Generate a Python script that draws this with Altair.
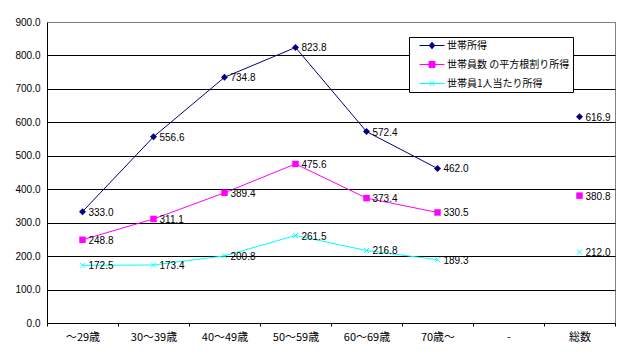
import altair as alt
import pandas as pd

categories = ["～29歳", "30～39歳", "40～49歳", "50～59歳", "60～69歳", "70歳～", "-", "総数"]
series_names = ["世帯所得", "世帯員数 の平方根割り所得", "世帯員1人当たり所得"]
household_income = [333.0, 556.6, 734.8, 823.8, 572.4, 462.0, None, 616.9]
equivalent_income = [248.8, 311.1, 389.4, 475.6, 373.4, 330.5, None, 380.8]
per_capita_income = [172.5, 173.4, 200.8, 261.5, 216.8, 189.3, None, 212.0]
y_ticks = [0, 100, 200, 300, 400, 500, 600, 700, 800, 900]

colors = ["#000080", "#FF00FF", "#00FFFF"]
marker_shapes = ["diamond", "square", "M-1,-1L1,1M-1,1L1,-1"]
marker_sizes = [49, 42, 25]
marker_filled = [True, True, False]
legend_paths = [
    "M-2.5,0H2.5M0,-0.65L0.55,0L0,0.65L-0.55,0Z",
    "M-2.5,0H2.5M-0.6,-0.6H0.6V0.6H-0.6Z",
    "M-2.5,0H2.5M-0.5,-0.5L0.5,0.5M-0.5,0.5L0.5,-0.5",
]

rows = []
for sid, (name, vals) in enumerate(zip(series_names, [household_income, equivalent_income, per_capita_income])):
    for cat, v in zip(categories, vals):
        rows.append({"cat": cat, "series": name, "sid": sid, "value": v})
df = pd.DataFrame(rows)

FONT = "Noto Sans CJK JP"
NUMFONT = "Liberation Sans"

x_enc = alt.X(
    "cat:N",
    sort=categories,
    bandPosition=0.5,
    scale=alt.Scale(type="band", paddingInner=0, paddingOuter=0, domain=categories),
    axis=alt.Axis(
        title=None, labelAngle=0, tickBand="extent", grid=False,
        domainColor="black", tickColor="black", tickSize=3,
        labelFont=FONT, labelFontSize=11, labelColor="black", labelPadding=5,
    ),
)
y_enc = alt.Y(
    "value:Q",
    scale=alt.Scale(domain=[0, 900], nice=False),
    axis=alt.Axis(
        title=None, values=y_ticks, format=".1f", grid=True,
        gridColor={"condition": {"test": "datum.value >= 900", "value": "#808080"}, "value": "black"},
        ticks=False, domainColor="black", labelPadding=7,
        labelFont=NUMFONT, labelFontSize=10, labelColor="black",
    ),
)

base = alt.Chart(df).encode(x=x_enc, y=y_enc)

layers = []
for sid in range(3):
    layers.append(
        base.transform_filter(f"datum.sid == {sid} && datum.value != null && datum.cat != '総数'")
        .mark_line(color=colors[sid], strokeWidth=1)
    )
for sid in range(3):
    layers.append(
        base.transform_filter(f"datum.sid == {sid} && datum.value != null")
        .mark_point(shape=marker_shapes[sid], filled=marker_filled[sid], color=colors[sid],
                    size=marker_sizes[sid], opacity=1, strokeWidth=1)
    )

labels = base.transform_filter("datum.value != null").mark_text(
    align="left", baseline="middle", dx=6, dy=1, fontSize=10, font=NUMFONT, color="black"
).encode(text=alt.Text("value:Q", format=".1f"))
layers.append(labels)

leg = alt.Legend(
    orient="none", legendX=362, legendY=15, title=None,
    labelFont=FONT, labelFontSize=10, labelColor="black", labelOffset=9.5,
    symbolSize=100, symbolStrokeWidth=1, symbolOpacity=1, symbolOffset=14.5,
    strokeColor="black", fillColor="white", padding=3, rowPadding=8,
)
legend_layer = base.transform_filter("datum.value != null").mark_point(
    opacity=0, filled=True, size=100
).encode(
    fill=alt.Fill("series:N", scale=alt.Scale(domain=series_names, range=colors), legend=leg),
    stroke=alt.Stroke("series:N", scale=alt.Scale(domain=series_names, range=colors), legend=leg),
    shape=alt.Shape("series:N", scale=alt.Scale(domain=series_names, range=legend_paths), legend=leg),
)
layers.append(legend_layer)

chart = alt.layer(*layers).properties(
    width=568, height=301,
    autosize=alt.AutoSizeParams(type="none"),
    padding={"left": 47, "top": 22, "right": 15, "bottom": 28},
    background="white",
).configure_view(stroke="#808080", strokeWidth=1)

chart.save("out.html", embed_options={"renderer": "svg", "actions": False})
